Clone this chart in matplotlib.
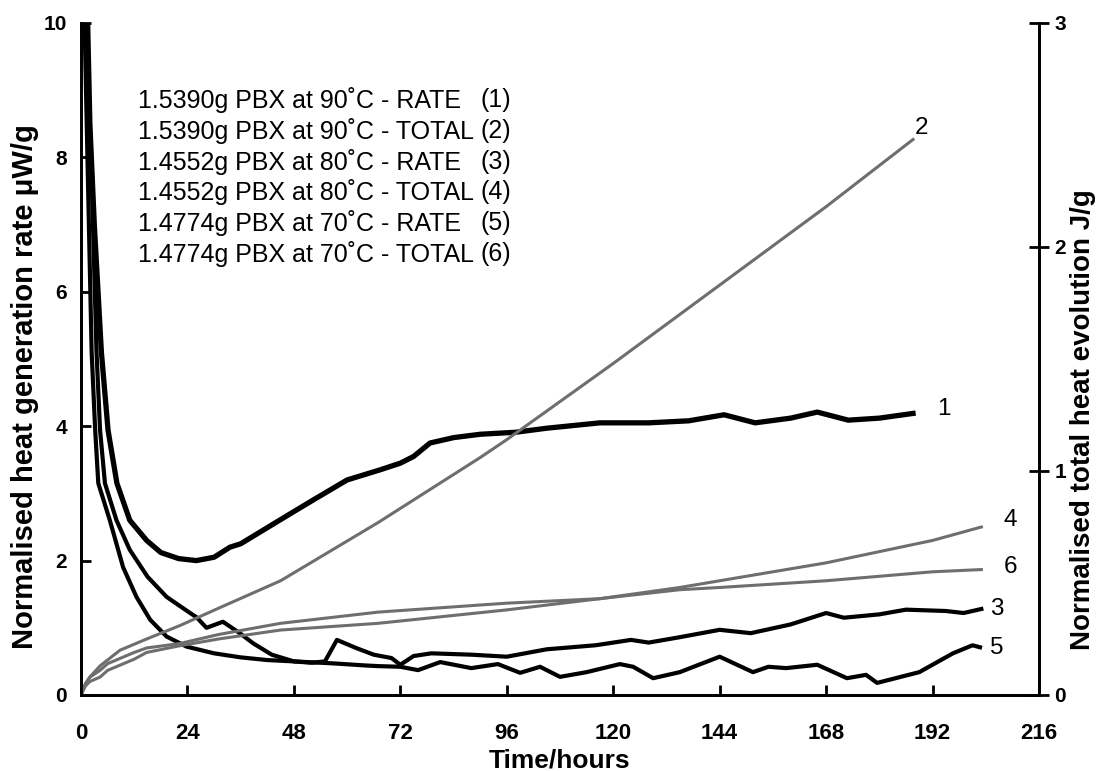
import matplotlib
matplotlib.use('Agg')
import matplotlib.pyplot as plt

plt.rcParams['font.family'] = ['Liberation Sans', 'DejaVu Sans']

# rate curves (left axis, uW/g)
t1 = [0.3, 1.5, 2, 3, 4.6, 6.1, 8.1, 11, 14.8, 18, 22, 26, 30, 33.6, 36, 41, 46, 52.3, 60, 67.4, 72,
      75, 78.7, 84, 90, 98, 105, 117, 128, 137, 145, 152, 160, 166, 173, 180, 187.6]
r1 = [12, 10, 8.5, 7, 5.1, 3.94, 3.15, 2.6, 2.3, 2.12, 2.03, 2.0, 2.05, 2.2, 2.25, 2.45, 2.65, 2.9, 3.2, 3.35,
      3.45, 3.55, 3.75, 3.83, 3.88, 3.91, 3.97, 4.05, 4.05, 4.08, 4.17, 4.05, 4.12, 4.21, 4.09, 4.12, 4.19]

t3 = [0.3, 1.2, 2.5, 3.5, 4.3, 5.4, 8, 11, 15, 19.3, 24.6, 26, 28.3, 32, 35.8, 38.8, 43, 48, 52, 55, 57.7,
      62, 66, 70, 72, 75, 79, 88, 96, 105, 116, 124, 128, 135, 144, 151, 160, 168, 172, 180, 186, 195, 199, 203]
r3 = [12, 10, 7.5, 5.1, 3.94, 3.15, 2.6, 2.16, 1.76, 1.46, 1.22, 1.16, 1.0, 1.09, 0.92, 0.77, 0.6, 0.5, 0.48,
      0.5, 0.82, 0.7, 0.6, 0.55, 0.45, 0.58, 0.62, 0.6, 0.57, 0.68, 0.74, 0.82, 0.78, 0.86, 0.97, 0.92, 1.05,
      1.22, 1.15, 1.2, 1.27, 1.25, 1.22, 1.28]

t5 = [0.3, 0.8, 2.4, 3.2, 3.9, 6.5, 9.5, 12.5, 15.6, 19.3, 23.8, 30, 36, 42, 48, 57, 64, 67, 72, 76, 81, 88,
      94, 99, 103.5, 108, 114, 121.5, 124.5, 129, 135, 144, 151.5, 155, 159, 166, 172.7, 177, 179.5, 189,
      196.6, 201, 202.7]
r5 = [12, 10, 5.1, 3.94, 3.15, 2.6, 1.9, 1.46, 1.12, 0.87, 0.72, 0.62, 0.56, 0.52, 0.5, 0.47, 0.44, 0.43, 0.42,
      0.37, 0.49, 0.40, 0.46, 0.33, 0.42, 0.27, 0.34, 0.46, 0.42, 0.25, 0.34, 0.57, 0.34, 0.42, 0.40, 0.45,
      0.25, 0.3, 0.18, 0.34, 0.62, 0.74, 0.71]

# total heat curves (right axis, J/g)
t2 = [0, 1, 2, 4.3, 8.8, 14.8, 22.3, 31.3, 45, 67, 90, 96, 120, 144, 168, 187.6]
h2 = [0, 0.05, 0.08, 0.13, 0.2, 0.25, 0.31, 0.39, 0.51, 0.77, 1.06, 1.14, 1.48, 1.83, 2.18, 2.48]

t4 = [0, 1, 2, 4.3, 6, 12, 14.8, 22.3, 31, 45, 67, 96, 117, 135, 144, 168, 192, 203]
h4 = [0, 0.04, 0.06, 0.08, 0.11, 0.16, 0.19, 0.22, 0.25, 0.29, 0.32, 0.38, 0.43, 0.48, 0.51, 0.59, 0.69, 0.75]

t6 = [0, 1, 2, 4.3, 6, 12, 14.8, 22.3, 31, 45, 67, 96, 117, 135, 144, 168, 192, 203]
h6 = [0, 0.05, 0.08, 0.11, 0.14, 0.19, 0.21, 0.23, 0.27, 0.32, 0.37, 0.41, 0.43, 0.47, 0.48, 0.51, 0.55, 0.56]

legend_text = ['1.5390g PBX at 90˚C - RATE',
               '1.5390g PBX at 90˚C - TOTAL',
               '1.4552g PBX at 80˚C - RATE',
               '1.4552g PBX at 80˚C - TOTAL',
               '1.4774g PBX at 70˚C - RATE',
               '1.4774g PBX at 70˚C - TOTAL']
legend_num = ['(1)', '(2)', '(3)', '(4)', '(5)', '(6)']

grey = '#6e6e6e'

fig = plt.figure(figsize=(10.99, 7.71), dpi=100)
ax = fig.add_axes([81/1099, 1-695/771, (1039-81)/1099, (695-23)/771])
ax2 = ax.twinx()

ax2.plot(t2, h2, color=grey, lw=2.2)
ax2.plot(t4, h4, color=grey, lw=2.2)
ax2.plot(t6, h6, color=grey, lw=2.2)
ax.plot(t1, r1, color='black', lw=3.8)
ax.plot(t3, r3, color='black', lw=3)
ax.plot(t5, r5, color='black', lw=3)

ax.set_xlim(0, 216)
ax.set_ylim(0, 10)
ax2.set_ylim(0, 3)
ax.set_xticks(range(0, 217, 24))
ax.set_yticks(range(0, 11, 2))
ax2.set_yticks([0, 1, 2, 3])

for a in (ax, ax2):
    a.spines['top'].set_visible(False)
    for s in a.spines.values():
        s.set_linewidth(2)
ax.tick_params(axis='y', direction='in', length=7, width=2, labelsize=15, pad=10)
ax.tick_params(axis='x', direction='in', length=7, width=2, labelsize=16, pad=20)
ax2.tick_params(axis='y', direction='inout', length=14, width=2, labelsize=15, pad=4)
for lab in ax.get_xticklabels() + ax.get_yticklabels() + ax2.get_yticklabels():
    lab.set_fontweight('bold')

fig.text(560/1099, 1-760/771, 'Time/hours', fontsize=19, fontweight='bold', ha='center', va='center')
fig.text(25/1099, 1-387/771, 'Normalised heat generation rate μW/g', rotation=90,
         fontsize=21, fontweight='bold', ha='center', va='center')
fig.text(1083/1099, 1-420/771, 'Normalised total heat evolution J/g', rotation=90,
         fontsize=20, fontweight='bold', ha='center', va='center')

for i in range(len(legend_text)):
    y = 1 - (100 + 30.8 * i) / 771
    fig.text(138/1099, y, legend_text[i], fontsize=18, ha='left', va='center')
    fig.text(511/1099, y, legend_num[i], fontsize=18, ha='right', va='center')

# curve numbers
ax.text(193, 4.25, '1', fontsize=17.5, va='center')
ax2.text(188, 2.53, '2', fontsize=17.5, va='center')
ax.text(205, 1.28, '3', fontsize=17.5, va='center')
ax2.text(208, 0.78, '4', fontsize=17.5, va='center')
ax.text(205, 0.7, '5', fontsize=17.5, va='center')
ax2.text(208, 0.57, '6', fontsize=17.5, va='center')

fig.savefig('out.png', dpi=100)
